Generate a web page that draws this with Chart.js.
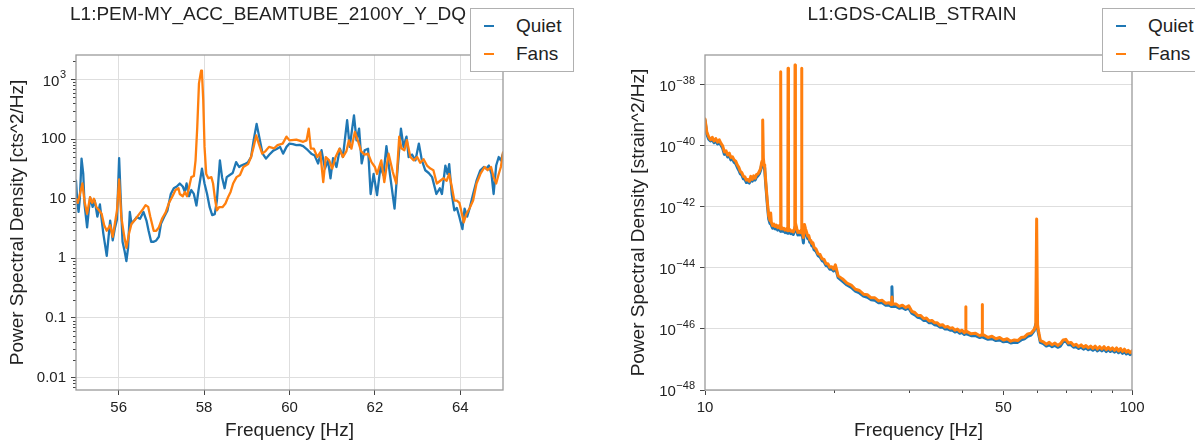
<!DOCTYPE html>
<html><head><meta charset="utf-8">
<script src="https://cdn.jsdelivr.net/npm/chart.js@4.4.1/dist/chart.umd.min.js"></script>
<style>
html,body{margin:0;padding:0;background:#fff;width:1195px;height:444px;overflow:hidden;font-family:"Liberation Sans",Arial,sans-serif;}
.wrap{position:absolute;top:0;height:444px;}
.ttl{position:absolute;top:3px;font-size:19px;line-height:22px;color:#222;white-space:nowrap;transform:translateX(-50%);}
.legend{position:absolute;top:8px;height:64px;width:104px;background:#fff;border:1px solid #b0b0b0;box-sizing:border-box;}
.row{position:absolute;left:0;width:100%;height:24px;font-size:19px;line-height:24px;color:#222;}
.mk{position:absolute;left:13px;top:11px;width:10px;height:2px;}
.lb{position:absolute;left:45px;top:0;}
</style>
</head><body>
<div class="wrap" style="left:0;width:597px;"><canvas id="cL" width="597" height="444"></canvas></div>
<div class="wrap" style="left:597px;width:598px;"><canvas id="cR" width="598" height="444"></canvas></div>
<div class="ttl" id="tL" style="left:268px;"></div>
<div class="ttl" id="tR" style="left:912px;"></div>
<div class="legend" id="lgL" style="left:470px;"></div>
<div class="legend" id="lgR" style="left:1102px;"></div>
<script>
// ---------- text ----------
const titles = ['L1:PEM-MY_ACC_BEAMTUBE_2100Y_Y_DQ', 'L1:GDS-CALIB_STRAIN'];
const seriesNames = ['Quiet', 'Fans'];
const seriesColors = ['#1f77b4', '#ff7f0e'];
const xTitle = 'Frequency [Hz]';
const yTitleLeft = 'Power Spectral Density [cts^2/Hz]';
const yTitleRight = 'Power Spectral Density [strain^2/Hz]';

// ---------- ticks (label "a^b" = a with superscript b) ----------
const leftXTicks = [56, 58, 60, 62, 64];
const leftXTickLabels = ['56', '58', '60', '62', '64'];
const leftYTicks = [0.01, 0.1, 1, 10, 100, 1000];
const leftYTickLabels = ['0.01', '0.1', '1', '10', '100', '10^3'];
const rightXTicks = [10, 50, 100];
const rightXTickLabels = ['10', '50', '100'];
const rightXMinor = [20, 30, 40, 60, 70, 80, 90];
const rightYTicks = [1e-48, 1e-46, 1e-44, 1e-42, 1e-40, 1e-38];
const rightYTickLabels = ['10^\u221248', '10^\u221246', '10^\u221244', '10^\u221242', '10^\u221240', '10^\u221238'];

// ---------- left panel data (Hz, cts^2/Hz) ----------
const leftQuietFreq = [
 55.00,55.03,55.06,55.09,55.13,55.17,55.20,55.26,55.33,55.39,
 55.44,55.50,55.56,55.64,55.72,55.80,55.86,55.91,55.96,56.01,
 56.05,56.09,56.14,56.18,56.22,56.26,56.30,56.36,56.42,56.50,
 56.58,56.65,56.70,56.76,56.82,56.88,56.94,56.99,57.06,57.14,
 57.22,57.29,57.36,57.43,57.50,57.55,57.59,57.65,57.70,57.76,
 57.82,57.87,57.95,58.01,58.07,58.13,58.19,58.25,58.30,58.37,
 58.42,58.48,58.53,58.60,58.67,58.75,58.82,58.87,58.95,59.03,
 59.10,59.16,59.23,59.29,59.37,59.45,59.53,59.62,59.70,59.78,
 59.85,59.93,60.00,60.08,60.16,60.24,60.32,60.43,60.51,60.59,
 60.67,60.75,60.83,60.90,60.96,61.02,61.10,61.18,61.25,61.35,
 61.41,61.51,61.57,61.63,61.69,61.76,61.84,61.90,61.97,62.05,
 62.13,62.20,62.27,62.34,62.46,62.52,62.61,62.67,62.74,62.79,
 62.87,62.95,63.03,63.10,63.18,63.26,63.34,63.44,63.52,63.57,
 63.65,63.70,63.74,63.80,63.86,63.92,63.98,64.05,64.10,64.16,
 64.22,64.30,64.38,64.47,64.55,64.61,64.67,64.73,64.78,64.84,
 64.90,64.95,65.00];
const leftQuietPsd = [
 20,9,6,10,47,26,8,3.3,10.5,7.3,
 9.3,5,8,2.6,1.1,4.3,2.0,3.2,4.5,48,
 9,1.9,1.3,0.9,1.5,6,3.8,4.3,4.9,4.6,
 6,4.3,2.9,1.9,1.9,2.0,2.3,3.8,4.9,6.3,
 12,15,16,18,16,13,18,11,14,12,
 7.7,14,32,18,12,7.2,5.3,5.5,9.4,44,
 23,15,23,25,27,41,34,36,38,41,
 50,95,180,110,57,47,55,64,68,74,
 57,74,84,82,79,80,76,65,57,53,
 39,65,32,44,22,48,34,69,50,207,
 74,250,95,150,39,65,69,12,26,11.5,
 34,25,76,30,6.8,25,150,74,110,50,
 55,44,84,44,30,27,23,12,15,12,
 36,26,38,12,6.4,7,4.9,3.1,6.8,5,
 7,12,20,30,34,32,36,26,12,36,
 50,44,57];
const leftFansFreq = [
 55.00,55.04,55.08,55.15,55.20,55.26,55.33,55.38,55.42,55.48,
 55.54,55.60,55.66,55.72,55.80,55.86,55.91,55.96,56.01,56.06,
 56.12,56.18,56.24,56.30,56.38,56.46,56.55,56.63,56.69,56.74,
 56.82,56.88,56.94,57.02,57.10,57.18,57.26,57.33,57.40,57.43,
 57.50,57.55,57.60,57.66,57.70,57.76,57.80,57.84,57.88,57.93,
 57.95,57.98,58.01,58.05,58.10,58.17,58.21,58.26,58.30,58.35,
 58.43,58.50,58.56,58.62,58.68,58.76,58.84,58.92,59.03,59.10,
 59.16,59.22,59.28,59.36,59.44,59.52,59.64,59.72,59.84,59.93,
 60.00,60.16,60.32,60.40,60.45,60.50,60.57,60.65,60.72,60.79,
 60.85,60.93,61.00,61.08,61.17,61.25,61.33,61.39,61.45,61.53,
 61.60,61.68,61.76,61.84,61.92,62.00,62.05,62.15,62.22,62.32,
 62.42,62.50,62.57,62.62,62.69,62.75,62.83,62.91,62.99,63.06,
 63.14,63.22,63.30,63.37,63.45,63.53,63.61,63.68,63.74,63.80,
 63.86,63.92,63.98,64.04,64.08,64.14,64.22,64.30,64.38,64.47,
 64.57,64.64,64.72,64.78,64.84,64.90,64.95,65.00];
const leftFansPsd = [
 10,8.5,11,18,9,5.6,10.6,8.5,10,7.2,
 6.4,5.6,3.6,2.9,3.6,2.3,3.8,6.4,21,5,
 2.6,1.5,2.6,3.8,4.4,5.3,6.4,7.8,7.3,5.0,
 2.9,2.9,3.3,4.7,5.9,8.6,11,14,15,12,
 11,13,11,17,23,24,44,160,860,1400,
 1300,450,74,26,22,23,18,9.4,6.4,7.2,
 7.2,8.3,10.6,13,18,23,25,34,38,50,
 74,115,84,57,63,74,70,79,84,110,
 95,98,90,95,150,69,69,50,60,19,
 50,44,32,50,69,50,62,95,69,132,
 95,62,55,57,41,34,26,44,19,57,
 28,18,110,70,65,96,50,44,50,40,
 46,36,32,30,18,20,22,20,26,16,
 9.3,9.3,8.5,5.5,4.0,5.5,7,9.3,18,26,
 34,30,34,23,18,26,34,60];

// ---------- right panel data (Hz, log10 of strain^2/Hz) ----------
const rightFreq = [
 10.0,10.1,10.2,10.3,10.4,10.5,10.6,10.7,10.8,10.9,
 11.0,11.1,11.2,11.3,11.4,11.5,11.6,11.7,11.8,11.9,
 12.0,12.1,12.2,12.3,12.4,12.5,12.6,12.7,12.8,12.9,
 13.0,13.1,13.2,13.3,13.4,13.5,
 13.55,13.6,13.65,13.7,13.75,13.8,13.9,14.0,14.1,14.2,
 14.25,14.3,14.4,14.5,14.6,14.7,14.8,14.9,15.0,15.03,
 15.05,15.07,15.1,15.2,15.3,15.4,15.5,15.6,15.63,15.65,
 15.67,15.7,15.8,15.9,16.0,16.1,16.2,16.23,16.25,16.27,
 16.3,16.4,16.5,16.6,16.7,16.8,16.83,16.85,16.87,16.9,
 17.0,
 17.1,17.2,17.3,17.4,17.5,17.6,17.7,17.8,17.9,18.0,
 18.2,18.4,18.6,18.8,19.0,19.2,19.4,19.6,19.8,20.0,
 20.2,20.5,21.0,21.5,22.0,22.5,23.0,23.5,24.0,24.5,
 25.0,25.5,26.0,26.5,27.0,27.3,27.4,27.5,28.0,28.5,
 29.0,29.5,30.0,30.5,31.0,31.5,32.0,32.5,33.0,33.5,
 34.0,34.5,35.0,35.5,36.0,36.5,37.0,37.5,38.0,38.5,
 39.0,39.5,40.0,40.5,40.75,40.8,40.85,
 41,42,43,44,44.55,44.6,44.65,45,46,47,
 48,49,50,51,52,53,54,55,56,57,
 58,59,59.5,59.8,60.1,60.5,61,62,63,64,
 65,66,67,68,69,70,71,72,73,74,
 75,76,77,78,79,80,81,82,83,84,
 85,86,87,88,89,90,91,92,93,94,
 95,96,97,98,99,100];
const rightFansLog10 = [
 -39.12,-39.55,-39.7,-39.8,-39.72,-39.84,-39.76,-39.88,-39.8,-39.92,
 -40.0,-40.2,-40.16,-40.3,-40.24,-40.38,-40.36,-40.46,-40.5,-40.62,
 -40.7,-40.84,-40.88,-41.0,-41.02,-41.12,-41.1,-41.16,-41.0,-41.1,
 -40.98,-41.06,-40.94,-40.92,-40.84,-40.74,
 -40.6,-40.5,-39.15,-40.4,-40.62,-40.7,-41.3,-41.85,-42.3,-42.45,
 -42.2,-42.5,-42.62,-42.56,-42.64,-42.6,-42.68,-42.62,-42.7,-42.72,
 -37.57,-42.72,-42.66,-42.72,-42.7,-42.76,-42.72,-42.78,-42.76,-37.46,
 -42.76,-42.78,-42.74,-42.8,-42.78,-42.82,-42.72,-42.6,-37.35,-42.6,
 -42.52,-42.7,-42.84,-42.8,-42.84,-42.76,-42.7,-37.46,-42.7,-42.82,
 -43.0,
 -42.58,-42.72,-42.84,-42.96,-42.94,-43.08,-43.1,-43.2,-43.18,-43.32,
 -43.38,-43.54,-43.56,-43.7,-43.72,-43.86,-43.86,-43.98,-43.96,-44.04,
 -43.9,-44.26,-44.36,-44.5,-44.56,-44.7,-44.74,-44.86,-44.88,-44.98,
 -44.98,-45.08,-45.06,-45.16,-45.14,-45.2,-44.95,-45.18,-45.18,-45.26,
 -45.22,-45.3,-45.24,-45.42,-45.46,-45.56,-45.56,-45.66,-45.64,-45.74,
 -45.72,-45.8,-45.8,-45.88,-45.86,-45.94,-45.92,-45.98,-45.96,-46.04,
 -46.0,-46.08,-46.04,-46.12,-46.08,-45.27,-46.1,
 -46.08,-46.16,-46.14,-46.22,-46.18,-45.2,-46.2,-46.2,-46.28,-46.24,
 -46.32,-46.28,-46.36,-46.32,-46.4,-46.36,-46.38,-46.28,-46.26,-46.16,
 -46.14,-46.02,-45.9,-42.4,-45.86,-46.12,-46.38,-46.42,-46.5,-46.44,
 -46.52,-46.46,-46.54,-46.48,-46.36,-46.34,-46.46,-46.44,-46.54,-46.5,
 -46.58,-46.52,-46.6,-46.54,-46.62,-46.56,-46.64,-46.56,-46.66,-46.58,
 -46.66,-46.58,-46.68,-46.6,-46.68,-46.62,-46.7,-46.62,-46.72,-46.64,
 -46.74,-46.66,-46.76,-46.7,-46.78,-46.72];
const rightQuietLog10 = [
 -39.16,-39.62,-39.78,-39.84,-39.8,-39.9,-39.84,-39.94,-39.9,-39.98,
 -40.08,-40.28,-40.24,-40.36,-40.32,-40.46,-40.42,-40.54,-40.58,-40.7,
 -40.8,-40.92,-40.96,-41.08,-41.1,-41.2,-41.18,-41.22,-41.08,-41.16,
 -41.06,-41.12,-41.02,-40.98,-40.92,-40.8,
 -40.66,-40.56,-40.5,-40.6,-40.72,-40.8,-41.4,-41.95,-42.4,-42.55,
 -42.5,-42.6,-42.7,-42.66,-42.72,-42.7,-42.76,-42.72,-42.78,-42.8,
 -42.8,-42.8,-42.76,-42.8,-42.8,-42.84,-42.8,-42.86,-42.84,-42.84,
 -42.84,-42.86,-42.82,-42.88,-42.86,-42.9,-42.8,-42.7,-42.66,-42.7,
 -42.62,-42.8,-42.92,-42.9,-42.92,-42.86,-42.82,-42.8,-42.82,-42.92,
 -43.18,
 -42.7,-42.82,-42.92,-43.04,-43.02,-43.16,-43.18,-43.28,-43.26,-43.4,
 -43.46,-43.6,-43.64,-43.76,-43.8,-43.92,-43.94,-44.04,-44.04,-44.1,
 -43.98,-44.32,-44.44,-44.56,-44.64,-44.76,-44.82,-44.92,-44.96,-45.04,
 -45.06,-45.14,-45.14,-45.22,-45.22,-45.26,-44.62,-45.26,-45.26,-45.32,
 -45.3,-45.36,-45.32,-45.48,-45.54,-45.62,-45.64,-45.72,-45.72,-45.8,
 -45.8,-45.86,-45.88,-45.94,-45.94,-46.0,-46.0,-46.04,-46.04,-46.1,
 -46.08,-46.14,-46.12,-46.18,-46.16,-46.16,-46.16,
 -46.16,-46.22,-46.22,-46.28,-46.26,-46.26,-46.26,-46.28,-46.34,-46.32,
 -46.38,-46.36,-46.42,-46.4,-46.46,-46.44,-46.44,-46.36,-46.32,-46.24,
 -46.2,-46.06,-45.85,-45.8,-46.0,-46.2,-46.44,-46.48,-46.56,-46.52,
 -46.58,-46.54,-46.6,-46.56,-46.42,-46.4,-46.52,-46.52,-46.6,-46.58,
 -46.64,-46.6,-46.66,-46.62,-46.68,-46.64,-46.7,-46.64,-46.72,-46.66,
 -46.72,-46.66,-46.74,-46.68,-46.74,-46.7,-46.76,-46.7,-46.78,-46.72,
 -46.8,-46.74,-46.82,-46.78,-46.84,-46.8];

// ---------- helpers ----------
const FONT = '"Liberation Sans", Arial, sans-serif';
const TXT = '#222';
const pts = (xs, ys) => xs.map((x, i) => ({x: x, y: ys[i]}));
const ptsLog = (xs, ls) => xs.map((x, i) => ({x: x, y: Math.pow(10, ls[i])}));

function framePlugin(minorX, minorY, yLabels) {
  return {
    id: 'frame',
    afterDraw(chart) {
      const {ctx, chartArea: a} = chart;
      ctx.save();
      ctx.strokeStyle = '#444';
      ctx.lineWidth = 1;
      const sx = chart.scales.x, sy = chart.scales.y;
      for (const v of minorX) {
        if (v <= sx.min || v >= sx.max) continue;
        const p = Math.round(sx.getPixelForValue(v)) + 0.5;
        ctx.beginPath(); ctx.moveTo(p, a.bottom); ctx.lineTo(p, a.bottom + 3); ctx.stroke();
      }
      for (const v of minorY) {
        if (v <= sy.min || v >= sy.max) continue;
        const p = Math.round(sy.getPixelForValue(v)) + 0.5;
        ctx.beginPath(); ctx.moveTo(a.left, p); ctx.lineTo(a.left - 3, p); ctx.stroke();
      }
      // y tick labels, with mathtext-like superscripts
      ctx.fillStyle = TXT;
      ctx.textAlign = 'right';
      ctx.textBaseline = 'middle';
      const xr = a.left - 10;
      sy.ticks.forEach((t, i) => {
        const y = sy.getPixelForValue(t.value);
        const parts = yLabels[i].split('^');
        if (parts.length === 1) {
          ctx.font = '15px ' + FONT;
          ctx.fillText(parts[0], xr, y);
        } else {
          ctx.font = '11px ' + FONT;
          const w = ctx.measureText(parts[1]).width;
          ctx.fillText(parts[1], xr, y - 4);
          ctx.font = '15px ' + FONT;
          ctx.fillText(parts[0], xr - w - 0.5, y + 2);
        }
      });
      ctx.strokeStyle = '#9a9a9a';
      ctx.lineWidth = 1.3;
      ctx.strokeRect(a.left, a.top, a.right - a.left, a.bottom - a.top);
      ctx.restore();
    }
  };
}

function makeChart(id, o) {
  return new Chart(document.getElementById(id), {
    type: 'line',
    data: {datasets: [
      {label: seriesNames[0], data: o.quiet, borderColor: seriesColors[0], borderWidth: o.lw, order: 2},
      {label: seriesNames[1], data: o.fans, borderColor: seriesColors[1], borderWidth: o.lw, order: 1}
    ]},
    options: {
      responsive: false, animation: false, devicePixelRatio: 1,
      layout: {padding: {left: 0, right: o.padRight, top: 55, bottom: 0}},
      elements: {point: {radius: 0}, line: {tension: 0, borderJoinStyle: 'round', borderCapStyle: 'round'}},
      plugins: {legend: {display: false}, tooltip: {enabled: false}, title: {display: false}},
      scales: {
        x: {
          type: o.xType, min: o.xMin, max: o.xMax,
          afterBuildTicks: s => { s.ticks = o.xTicks.map(v => ({value: v})); },
          afterFit: s => { s.height = 54; },
          ticks: {callback: (v, i) => o.xLabels[i], font: {family: FONT, size: 15}, color: TXT, padding: 4, maxRotation: 0, autoSkip: false},
          grid: {color: '#dedede', lineWidth: 1, tickColor: '#444', tickLength: 5, drawOnChartArea: o.xGrid},
          border: {display: false},
          title: {display: true, text: xTitle, font: {family: FONT, size: 19}, color: TXT, padding: {top: 0, bottom: 2}}
        },
        y: {
          type: 'logarithmic', min: o.yMin, max: o.yMax,
          afterBuildTicks: s => { s.ticks = o.yTicks.map(v => ({value: v})); },
          afterFit: s => { s.width = o.yWidth; },
          ticks: {display: false, autoSkip: false},
          grid: {color: '#dedede', lineWidth: 1, tickColor: '#444', tickLength: 5},
          border: {display: false},
          title: {display: true, text: o.yTitle, font: {family: FONT, size: 19}, color: TXT, padding: {top: o.yTitlePad, bottom: 0}}
        }
      }
    },
    plugins: [framePlugin(o.minorX, o.minorY, o.yLabels)]
  });
}

const leftMinorY = [];
for (let k = -3; k <= 3; k++) for (let m = 2; m <= 9; m++) leftMinorY.push(m * Math.pow(10, k));

makeChart('cL', {
  quiet: pts(leftQuietFreq, leftQuietPsd), fans: pts(leftFansFreq, leftFansPsd), lw: 2.3,
  padRight: 94, xType: 'linear', xMin: 55, xMax: 65, xTicks: leftXTicks, xLabels: leftXTickLabels, xGrid: true,
  yMin: 0.0062, yMax: 2570, yTicks: leftYTicks, yLabels: leftYTickLabels, yWidth: 76,
  yTitle: yTitleLeft, yTitlePad: 6, minorX: [], minorY: leftMinorY
});
makeChart('cR', {
  quiet: ptsLog(rightFreq, rightQuietLog10), fans: ptsLog(rightFreq, rightFansLog10), lw: 3,
  padRight: 63, xType: 'logarithmic', xMin: 10, xMax: 100, xTicks: rightXTicks, xLabels: rightXTickLabels, xGrid: false,
  yMin: 9.5e-38 / 9.5e10, yMax: 9.5e-38, yTicks: rightYTicks, yLabels: rightYTickLabels, yWidth: 108,
  yTitle: yTitleRight, yTitlePad: 30, minorX: rightXMinor, minorY: []
});

// ---------- titles and legends ----------
document.getElementById('tL').textContent = titles[0];
document.getElementById('tR').textContent = titles[1];
for (const id of ['lgL', 'lgR']) {
  const box = document.getElementById(id);
  seriesNames.forEach((name, i) => {
    const row = document.createElement('div');
    row.className = 'row';
    row.style.top = (5 + i * 28) + 'px';
    row.innerHTML = '<div class="mk" style="background:' + seriesColors[i] + '"></div><div class="lb"></div>';
    row.querySelector('.lb').textContent = name;
    box.appendChild(row);
  });
}
</script>
</body></html>
